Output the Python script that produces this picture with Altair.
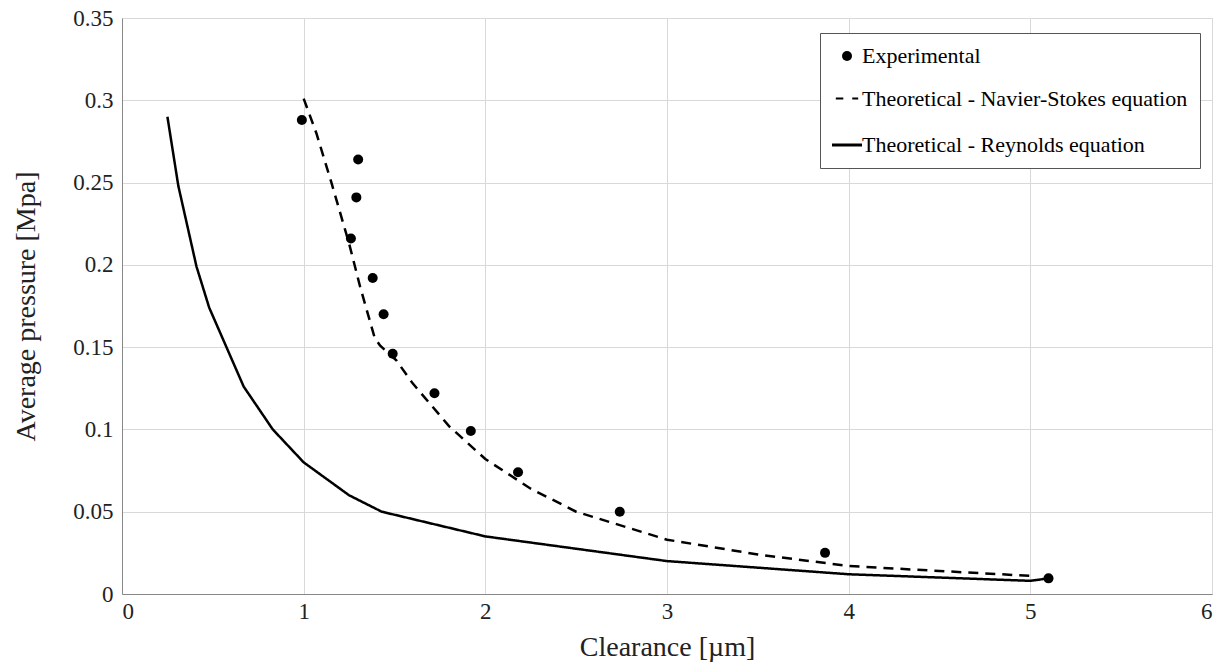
import altair as alt
import pandas as pd

# Experimental points
exp_x = [0.99, 1.30, 1.29, 1.26, 1.38, 1.44, 1.49, 1.72, 1.92, 2.18, 2.74, 3.87, 5.10]
exp_y = [0.288, 0.264, 0.241, 0.216, 0.192, 0.170, 0.146, 0.122, 0.099, 0.074, 0.050, 0.025, 0.0095]

# Theoretical - Navier-Stokes
ns_x = [1.00, 1.07, 1.15, 1.25, 1.31, 1.39, 1.42, 1.51, 1.60, 1.80, 2.00, 2.25, 2.50, 3.00, 3.50, 4.00, 5.00]
ns_y = [0.301, 0.280, 0.251, 0.213, 0.187, 0.156, 0.151, 0.142, 0.128, 0.102, 0.082, 0.064, 0.050, 0.033, 0.024, 0.017, 0.011]

# Theoretical - Reynolds
re_x = [0.25, 0.31, 0.41, 0.48, 0.67, 0.83, 1.00, 1.25, 1.43, 2.00, 3.00, 4.00, 5.00, 5.10]
re_y = [0.290, 0.248, 0.199, 0.174, 0.126, 0.100, 0.080, 0.060, 0.050, 0.035, 0.020, 0.012, 0.008, 0.0095]

S_EXP = "Experimental"
S_NS = "Theoretical - Navier-Stokes equation"
S_RE = "Theoretical - Reynolds equation"
series_order = [S_EXP, S_NS, S_RE]

x_ticks = [0, 1, 2, 3, 4, 5, 6]
y_ticks = [0, 0.05, 0.1, 0.15, 0.2, 0.25, 0.3, 0.35]

# legend glyphs (unit-square SVG paths)
DASH_GLYPH = "M-1,-0.1H-0.33V0.1H-1Z M0.47,-0.1H1V0.1H0.47Z"
SOLID_GLYPH = "M-1,-0.1H1V0.1H-1Z"

pts = pd.DataFrame({"x": exp_x, "y": exp_y, "series": S_EXP})
lines = pd.concat([
    pd.DataFrame({"x": ns_x, "y": ns_y, "series": S_NS, "order": range(len(ns_x))}),
    pd.DataFrame({"x": re_x, "y": re_y, "series": S_RE, "order": range(len(re_x))}),
])

FONT = "Liberation Serif"

xenc = alt.X("x:Q", scale=alt.Scale(domain=[0, 6], nice=False),
             axis=alt.Axis(values=x_ticks, title="Clearance [µm]", format="~g"))
yenc = alt.Y("y:Q", scale=alt.Scale(domain=[0, 0.35], nice=False),
             axis=alt.Axis(values=y_ticks, title="Average pressure [Mpa]", format="~g"))

leg = alt.Legend(title=None)

dash_scale = alt.Scale(domain=series_order, range=[[1, 0], [10, 7], [1, 0]])

line_layer = alt.Chart(lines).mark_line(color="black", strokeWidth=2.5).encode(
    x=xenc, y=yenc,
    order="order:Q",
    strokeDash=alt.StrokeDash("series:N", scale=dash_scale, legend=leg),
)

pt_layer = alt.Chart(pts).mark_point(
    filled=True, color="black", strokeWidth=0, opacity=1
).encode(
    x=xenc, y=yenc,
    shape=alt.Shape("series:N",
                    scale=alt.Scale(domain=series_order, range=["circle", DASH_GLYPH, SOLID_GLYPH]),
                    legend=leg),
    size=alt.Size("series:N",
                  scale=alt.Scale(domain=series_order, range=[100, 900, 900]),
                  legend=leg),
)

chart = alt.layer(line_layer, pt_layer).properties(
    width=1090, height=576,
    autosize=alt.AutoSizeParams(type="none"),
    padding={"left": 122, "top": 18, "right": 10, "bottom": 70},
).configure_view(
    stroke="#c8c8c8", strokeWidth=1
).configure_axis(
    labelFont=FONT, titleFont=FONT, labelFontSize=23, titleFontSize=28,
    labelColor="#222", titleColor="#222", titleFontWeight="normal",
    gridColor="#d9d9d9", gridWidth=1, domainColor="#888", ticks=False,
).configure_axisX(
    labelPadding=6, titlePadding=10
).configure_axisY(
    labelPadding=9, titlePadding=32
).configure_legend(
    orient="none", legendX=698, legendY=15,
    labelFont=FONT, labelFontSize=22, labelColor="black",
    strokeColor="#555", fillColor="white", padding=12,
    rowPadding=20, symbolFillColor="black", symbolStrokeWidth=0,
    labelOffset=0, labelLimit=500,
)

chart.save("out.html", embed_options={"renderer": "svg", "actions": False})
